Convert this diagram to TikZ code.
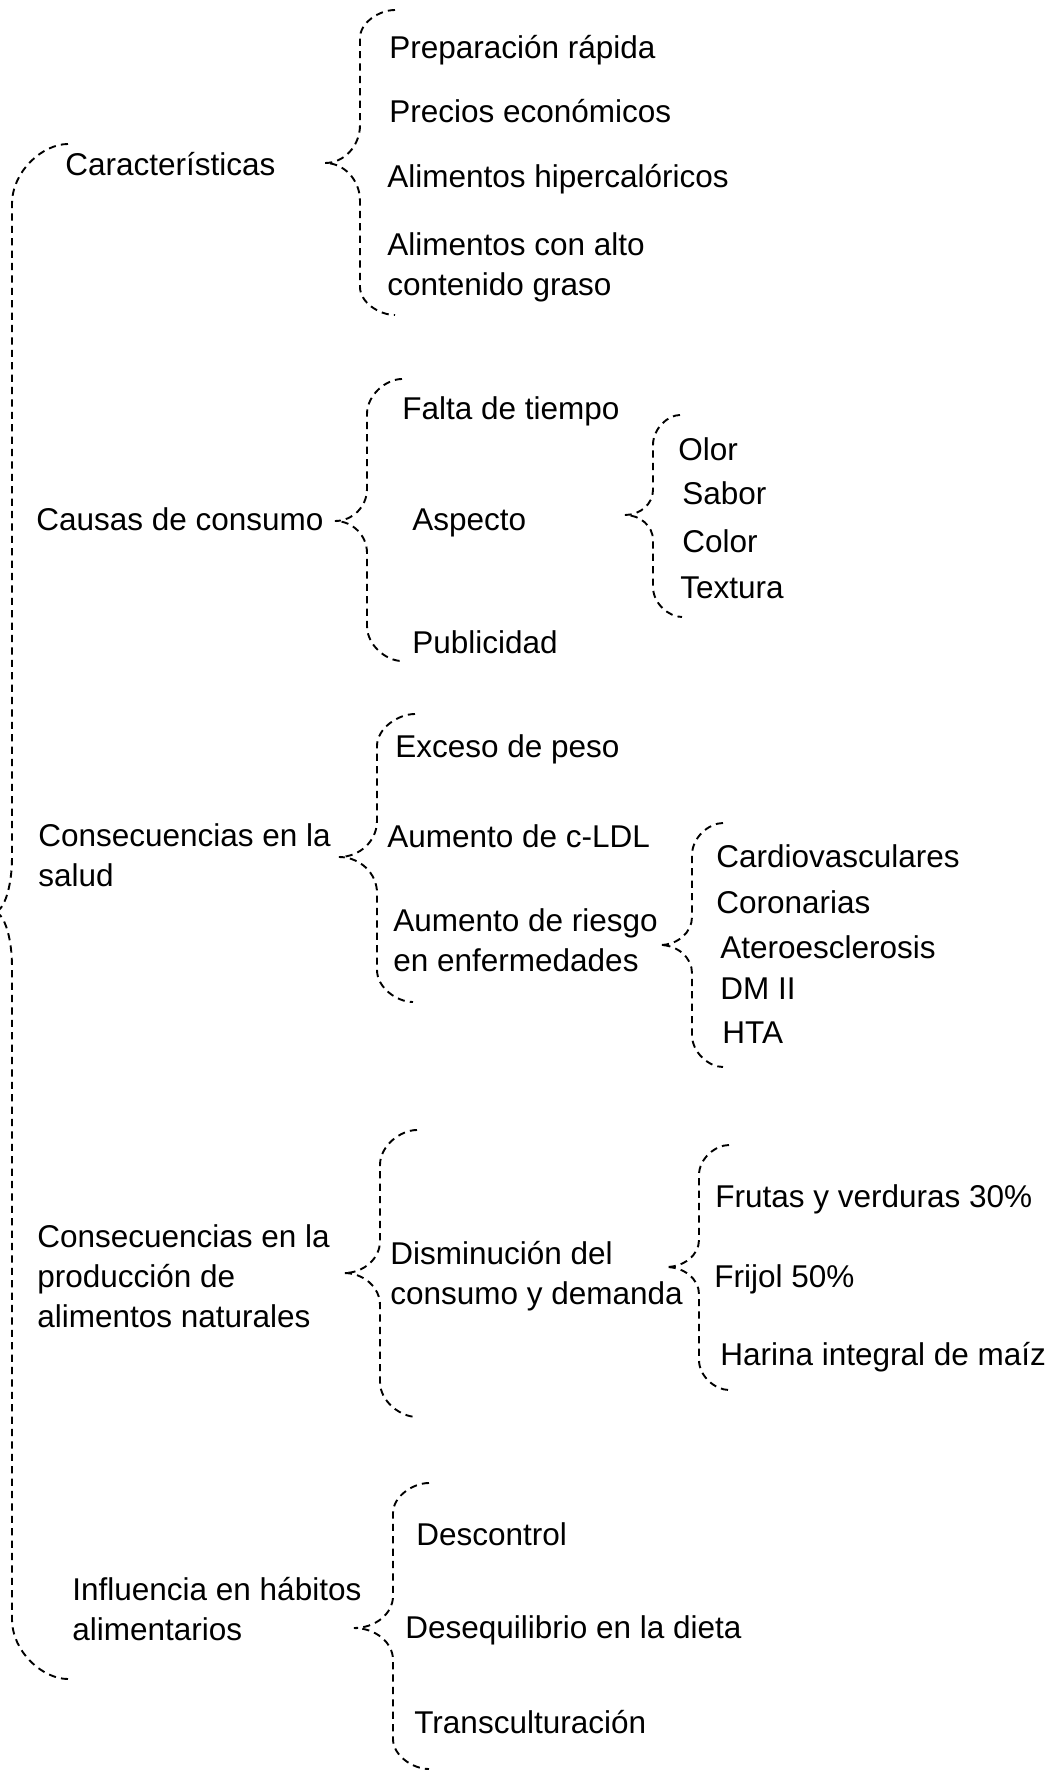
\documentclass[tikz,border=0pt]{standalone}
\usepackage{fontspec}
\setmainfont{Liberation Sans}
\tikzset{
  lbl/.style={anchor=base west, inner sep=0pt, font=\fontsize{15.75}{20}\selectfont, align=left},
  bline/.style={dash pattern=on 3.6pt off 2.6pt, line width=0.95pt}
}
% #1 xe top, #2 y top, #3 x vertical, #4 x tip, #5 y tip, #6 xe bottom, #7 y bottom, #8 end radius, #9 tip radius
\newcommand\dbrace[9]{%
  \draw[bline] (#1,#2) .. controls ({#3+0.55*(#1-#3)},#2) and (#3,{#2+0.45*#8}) .. (#3,{#2+#8})
    -- (#3,{#5-#9}) .. controls (#3,{#5-0.45*#9}) and ({#4+0.55*(#3-#4)},#5) .. (#4,#5)
    .. controls ({#4+0.55*(#3-#4)},#5) and (#3,{#5+0.45*#9}) .. (#3,{#5+#9})
    -- (#3,{#7-#8}) .. controls (#3,{#7-0.45*#8}) and ({#3+0.55*(#6-#3)},#7) .. (#6,#7);%
}
\begin{document}
\begin{tikzpicture}[x=0.5pt,y=-0.5pt]
\useasboundingbox (0,0) rectangle (1061,1771);
\clip (0,0) rectangle (1061,1771);
% main brace
\dbrace{68}{144}{12}{-6}{912}{68}{1679}{60}{55}
% Caracteristicas
\node[lbl] (car) at (65,176) {Características};
\dbrace{395}{10}{360}{325}{163}{395}{315}{28}{38}
\node[lbl] (c1) at (389,59) {Preparación rápida};
\node[lbl] (c2) at (389,123) {Precios económicos};
\node[lbl] (c3) at (387,188) {Alimentos hipercalóricos};
\node[lbl] (c4) at (387,295) {Alimentos con alto\\contenido graso};
% Causas
\node[lbl] (cau) at (36,530) {Causas de consumo};
\dbrace{402}{379}{367}{335}{521}{402}{661}{35}{32}
\node[lbl] (k1) at (402,419) {Falta de tiempo};
\node[lbl] (k2) at (412,530) {Aspecto};
\node[lbl] (k3) at (412,653) {Publicidad};
\dbrace{680}{415}{653}{625}{515}{682}{617}{30}{25}
\node[lbl] (a1) at (678,460) {Olor};
\node[lbl] (a2) at (682,504) {Sabor};
\node[lbl] (a3) at (682,552) {Color};
\node[lbl] (a4) at (680,598) {Textura};
% Salud
\node[lbl] (sal) at (38,886) {Consecuencias en la\\salud};
\dbrace{415}{714}{377}{339}{857}{413}{1002}{32}{36}
\node[lbl] (s1) at (395,757) {Exceso de peso};
\node[lbl] (s2) at (387,847) {Aumento de c-LDL};
\node[lbl] (s3) at (393,971) {Aumento de riesgo\\en enfermedades};
\dbrace{723}{823}{692}{660}{945}{723}{1067}{32}{28}
\node[lbl] (e1) at (716,867) {Cardiovasculares};
\node[lbl] (e2) at (716,913) {Coronarias};
\node[lbl] (e3) at (720,958) {Ateroesclerosis};
\node[lbl] (e4) at (720,999) {DM II};
\node[lbl] (e5) at (722,1043) {HTA};
% Produccion
\node[lbl] (pro) at (37,1327) {Consecuencias en la\\producción de\\alimentos naturales};
\dbrace{417}{1130}{380}{344}{1273}{417}{1417}{35}{32}
\node[lbl] (p1) at (390,1304) {Disminución del\\consumo y demanda};
\dbrace{729}{1145}{699}{666}{1267}{729}{1390}{30}{27}
\node[lbl] (d1) at (715,1207) {Frutas y verduras 30\%};
\node[lbl] (d2) at (714,1287) {Frijol 50\%};
\node[lbl] (d3) at (720,1365) {Harina integral de maíz};
% Influencia
\node[lbl] (inf) at (72,1640) {Influencia en hábitos\\alimentarios};
\dbrace{429}{1483}{393}{354}{1628}{429}{1769}{30}{32}
\node[lbl] (i1) at (416,1545) {Descontrol};
\node[lbl] (i2) at (405,1638) {Desequilibrio en la dieta};
\node[lbl] (i3) at (414,1733) {Transculturación};
\end{tikzpicture}
\end{document}
